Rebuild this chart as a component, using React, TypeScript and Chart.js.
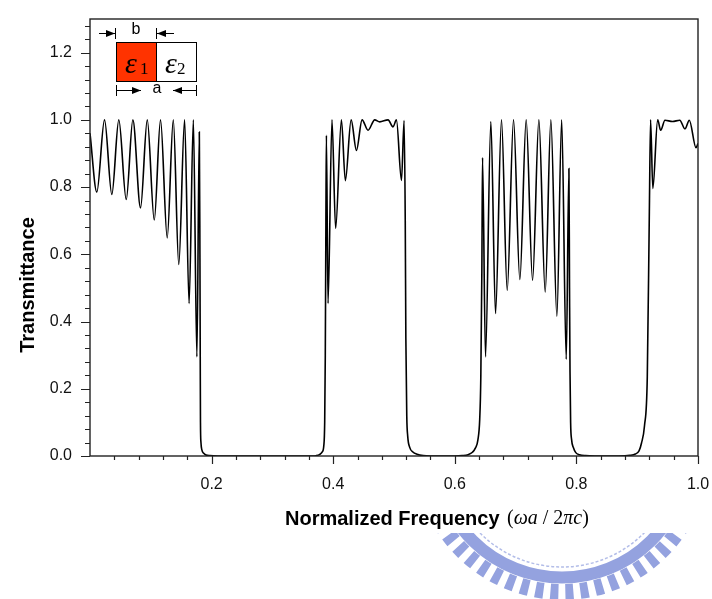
import { useEffect, useRef } from "react";
import { Chart, registerables } from "chart.js";

Chart.register(...registerables);

// ---------- data ----------
const band1Freq = [0, 0.0112, 0.0239, 0.0359, 0.0474, 0.0596, 0.0705, 0.0831, 0.0942, 0.1057, 0.116, 0.127, 0.137, 0.146, 0.1556, 0.163, 0.17, 0.1758, 0.1798];
const band1T = [0.96, 0.785, 1.0, 0.778, 1.0, 0.763, 1.0, 0.738, 1.0, 0.702, 1.0, 0.649, 1.0, 0.57, 1.0, 0.454, 1.0, 0.295, 0.964];

const gap1Freq = [0.1808, 0.1813, 0.1817, 0.1825, 0.184, 0.187, 0.191, 0.197, 0.21, 0.3, 0.365, 0.372, 0.378, 0.382, 0.3845, 0.386, 0.387, 0.388];
const gap1T = [0.6, 0.3, 0.1, 0.04, 0.018, 0.008, 0.003, 0.001, 0, 0, 0, 0.001, 0.005, 0.012, 0.03, 0.1, 0.3, 0.7];

const band2Freq = [0.3888, 0.3915, 0.398, 0.404, 0.4135, 0.42, 0.4295, 0.4382, 0.4475, 0.4573, 0.4683, 0.4765, 0.4902, 0.4984, 0.504, 0.5123, 0.5166];
const band2T = [0.954, 0.454, 1.0, 0.677, 1.0, 0.819, 1.0, 0.909, 1.0, 0.969, 1.0, 0.994, 1.0, 0.979, 1.0, 0.82, 0.998];

const gap2Freq = [0.5185, 0.5195, 0.521, 0.5225, 0.526, 0.531, 0.538, 0.548, 0.56, 0.6, 0.612, 0.622, 0.629, 0.634, 0.638, 0.641, 0.6428, 0.6445];
const gap2T = [0.7, 0.35, 0.12, 0.06, 0.025, 0.012, 0.005, 0.001, 0, 0, 0.001, 0.004, 0.011, 0.024, 0.048, 0.11, 0.236, 0.55];

const band3Freq = [0.6456, 0.6505, 0.6593, 0.667, 0.6768, 0.6862, 0.6966, 0.707, 0.7174, 0.7279, 0.7383, 0.7487, 0.758, 0.7679, 0.7758, 0.7833, 0.7877];
const band3T = [0.888, 0.295, 0.995, 0.424, 1.0, 0.493, 1.0, 0.525, 1.0, 0.523, 1.0, 0.488, 1.0, 0.416, 1.0, 0.288, 0.855];

const gap3Freq = [0.7887, 0.7895, 0.7905, 0.792, 0.795, 0.799, 0.805, 0.815, 0.83, 0.87, 0.888, 0.897, 0.903, 0.907, 0.912, 0.9166, 0.92];
const gap3T = [0.5, 0.25, 0.1, 0.05, 0.025, 0.01, 0.004, 0.001, 0, 0, 0.002, 0.006, 0.015, 0.038, 0.09, 0.236, 0.73];

const band4Freq = [0.922, 0.9257, 0.9337, 0.9386, 0.9457, 0.958, 0.97, 0.9786, 0.9857, 0.9967, 1.0];
const band4T = [1.0, 0.796, 1.0, 0.969, 0.999, 0.995, 0.999, 0.973, 0.999, 0.917, 0.93];

const xTickValues = [0.2, 0.4, 0.6, 0.8, 1.0];
const yTickValues = [0, 0.2, 0.4, 0.6, 0.8, 1.0, 1.2];
const minorStep = 0.04;
const xTitle = "Normalized Frequency";
const yTitle = "Transmittance";

const freqs = [...band1Freq, ...gap1Freq, ...band2Freq, ...gap2Freq, ...band3Freq, ...gap3Freq, ...band4Freq];
const trans = [...band1T, ...gap1T, ...band2T, ...gap2T, ...band3T, ...gap3T, ...band4T];

const SANS = '"Liberation Sans", Arial, sans-serif';
const SERIF = '"Liberation Serif", "Times New Roman", serif';

function arrow(ctx: CanvasRenderingContext2D, x1: number, x2: number, y: number, tip: number) {
  ctx.beginPath();
  ctx.moveTo(x1, y);
  ctx.lineTo(x2, y);
  ctx.stroke();
  const dir = tip > (x1 + x2) / 2 ? 1 : -1;
  ctx.beginPath();
  ctx.moveTo(tip, y);
  ctx.lineTo(tip - dir * 9, y - 3.5);
  ctx.lineTo(tip - dir * 9, y + 3.5);
  ctx.closePath();
  ctx.fill();
}

const decor = {
  id: "decor",
  afterDraw(chart: any) {
    const ctx: CanvasRenderingContext2D = chart.ctx;
    const { left, right, top, bottom } = chart.chartArea;
    const xs = chart.scales.x;
    const ys = chart.scales.y;
    ctx.save();

    // frame
    ctx.strokeStyle = "#222";
    ctx.lineWidth = 1.4;
    ctx.strokeRect(left, top, right - left, bottom - top);

    // ticks
    ctx.lineWidth = 1.2;
    ctx.beginPath();
    for (let i = 1; i * minorStep <= 1.0001; i++) {
      const v = i * minorStep;
      const isMajor = Math.abs(v / 0.2 - Math.round(v / 0.2)) < 1e-6;
      const px = Math.round(xs.getPixelForValue(v)) + 0.5;
      ctx.moveTo(px, bottom);
      ctx.lineTo(px, bottom + (isMajor ? 8 : 4));
    }
    for (let i = 0; i * minorStep <= 1.3; i++) {
      const v = i * minorStep;
      const isMajor = Math.abs(v / 0.2 - Math.round(v / 0.2)) < 1e-6;
      const py = Math.round(ys.getPixelForValue(v)) + 0.5;
      ctx.moveTo(left, py);
      ctx.lineTo(left - (isMajor ? 9 : 5), py);
    }
    ctx.stroke();

    // y title
    ctx.fillStyle = "#000";
    ctx.save();
    ctx.translate(28, 285);
    ctx.rotate(-Math.PI / 2);
    ctx.font = `bold 20px ${SANS}`;
    ctx.textAlign = "center";
    ctx.textBaseline = "middle";
    ctx.fillText(yTitle, 0, 0);
    ctx.restore();

    // x title
    ctx.font = `bold 20px ${SANS}`;
    ctx.textAlign = "left";
    ctx.textBaseline = "alphabetic";
    ctx.fillText(xTitle, 285, 525);
    let mx = 507;
    const parts: [string, string][] = [
      ["(", `20px ${SERIF}`],
      ["ωa", `italic 20px ${SERIF}`],
      [" / ", `20px ${SERIF}`],
      ["2", `20px ${SERIF}`],
      ["πc", `italic 20px ${SERIF}`],
      [")", `20px ${SERIF}`],
    ];
    for (const [t, f] of parts) {
      ctx.font = f;
      ctx.fillText(t, mx, 524);
      mx += ctx.measureText(t).width;
    }

    // inset: two-layer unit cell
    ctx.fillStyle = "#ff3300";
    ctx.fillRect(116, 42, 41, 40);
    ctx.strokeStyle = "#000";
    ctx.lineWidth = 1;
    ctx.strokeRect(116.5, 42.5, 80, 39);
    ctx.beginPath();
    ctx.moveTo(156.5, 42);
    ctx.lineTo(156.5, 82);
    ctx.stroke();
    ctx.fillStyle = "#000";
    ctx.font = `italic 30px ${SERIF}`;
    ctx.textAlign = "left";
    ctx.fillText("ε", 125, 73);
    ctx.fillText("ε", 165, 73);
    ctx.font = `17px ${SERIF}`;
    ctx.fillText("1", 140, 74);
    ctx.fillText("2", 177, 74);

    ctx.font = `16px ${SANS}`;
    ctx.textAlign = "center";
    ctx.textBaseline = "middle";
    ctx.fillText("b", 136, 30);
    ctx.fillText("a", 157, 89);
    ctx.lineWidth = 1;
    arrow(ctx, 99, 115, 33.5, 115);
    arrow(ctx, 157, 174, 33.5, 157);
    arrow(ctx, 116, 141, 90.5, 141);
    arrow(ctx, 173, 197, 90.5, 173);
    ctx.beginPath();
    ctx.moveTo(115.5, 28); ctx.lineTo(115.5, 39);
    ctx.moveTo(156.5, 28); ctx.lineTo(156.5, 39);
    ctx.moveTo(116.5, 85); ctx.lineTo(116.5, 96);
    ctx.moveTo(196.5, 85); ctx.lineTo(196.5, 96);
    ctx.stroke();

    // faint emblem watermark at the bottom right
    ctx.save();
    ctx.beginPath();
    ctx.rect(0, 533, 712, 66);
    ctx.clip();
    const cx = 562, cy = 451;
    ctx.strokeStyle = "#b3bde8";
    ctx.lineWidth = 1.5;
    ctx.setLineDash([3, 2]);
    ctx.beginPath();
    ctx.arc(cx, cy, 116, 0, Math.PI);
    ctx.stroke();
    ctx.strokeStyle = "#94a2df";
    ctx.setLineDash([]);
    ctx.lineWidth = 12;
    ctx.beginPath();
    ctx.arc(cx, cy, 126.5, 0, Math.PI);
    ctx.stroke();
    ctx.lineWidth = 16;
    ctx.setLineDash([8, 7]);
    ctx.beginPath();
    ctx.arc(cx, cy, 141, 0, Math.PI);
    ctx.stroke();
    ctx.restore();

    ctx.restore();
  },
};

export default function App() {
  const ref = useRef<HTMLCanvasElement>(null);
  useEffect(() => {
    document.body.style.margin = "0";
    const points = freqs.map((f, i) => ({ x: f, y: trans[i] }));
    const chart = new Chart(ref.current!, {
      type: "line",
      data: {
        datasets: [
          {
            data: points,
            borderColor: "#000",
            borderWidth: 1.6,
            pointRadius: 0,
            cubicInterpolationMode: "monotone",
            fill: false,
          },
        ],
      },
      options: {
        animation: false,
        responsive: false,
        devicePixelRatio: 1,
        layout: { padding: { left: 0, right: 14, top: 19, bottom: 0 } },
        plugins: { legend: { display: false }, tooltip: { enabled: false } },
        scales: {
          x: {
            type: "linear",
            min: 0,
            max: 1,
            afterBuildTicks: (s: any) => {
              s.ticks = xTickValues.map((v) => ({ value: v }));
            },
            afterFit: (s: any) => {
              s.height = 143;
              s.paddingLeft = 0;
              s.paddingRight = 0;
            },
            grid: { display: false, drawTicks: false },
            border: { display: false },
            ticks: {
              padding: 19,
              maxRotation: 0,
              autoSkip: false,
              color: "#111",
              font: { family: SANS, size: 16 },
              callback: (v: any) => Number(v).toFixed(1),
            },
          },
          y: {
            type: "linear",
            min: 0,
            max: 1.3,
            afterBuildTicks: (s: any) => {
              s.ticks = yTickValues.map((v) => ({ value: v }));
            },
            afterFit: (s: any) => {
              s.width = 90;
              s.paddingTop = 0;
              s.paddingBottom = 0;
            },
            grid: { display: false, drawTicks: false },
            border: { display: false },
            ticks: {
              padding: 18,
              autoSkip: false,
              color: "#111",
              font: { family: SANS, size: 16 },
              callback: (v: any) => Number(v).toFixed(1),
            },
          },
        },
      },
      plugins: [decor],
    });
    return () => chart.destroy();
  }, []);
  return (
    <div style={{ position: "relative", width: 712, height: 599, background: "#fff" }}>
      <canvas ref={ref} width={712} height={599} style={{ display: "block" }} />
    </div>
  );
}
